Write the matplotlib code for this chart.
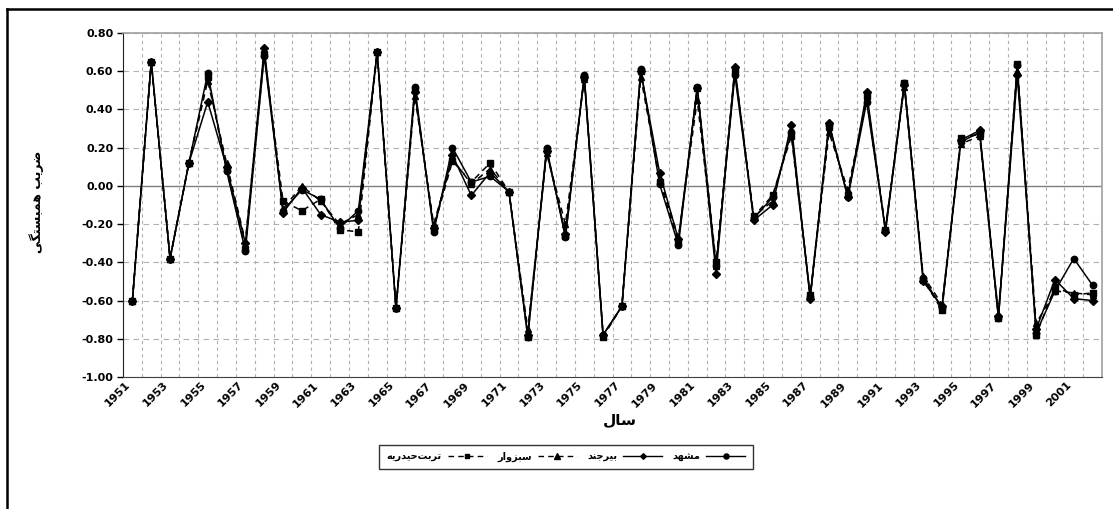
import numpy as np
import matplotlib
matplotlib.use("Agg")
import matplotlib.pyplot as plt
import matplotlib.transforms as mtransforms
from matplotlib.lines import Line2D

# === data ===
years = list(range(1951, 2003))

mashhad = [-0.60, 0.65, -0.38, 0.12, 0.59, 0.08, -0.34, 0.68, -0.13, -0.02,
           -0.07, -0.22, -0.13, 0.70, -0.64, 0.52, -0.24, 0.20, 0.02, 0.05,
           -0.03, -0.79, 0.20, -0.27, 0.58, -0.78, -0.63, 0.61, 0.01, -0.31,
           0.52, -0.42, 0.58, -0.17, -0.06, 0.28, -0.58, 0.32, -0.06, 0.44,
           -0.23, 0.54, -0.48, -0.64, 0.23, 0.28, -0.69, 0.63, -0.77, -0.55,
           -0.38, -0.52]
birjand = [-0.60, 0.65, -0.38, 0.12, 0.44, 0.10, -0.30, 0.72, -0.14, -0.01,
           -0.15, -0.19, -0.18, 0.70, -0.64, 0.49, -0.22, 0.16, -0.05, 0.07,
           -0.03, -0.78, 0.18, -0.25, 0.57, -0.78, -0.63, 0.60, 0.07, -0.28,
           0.51, -0.46, 0.62, -0.18, -0.10, 0.32, -0.59, 0.33, -0.06, 0.49,
           -0.24, 0.53, -0.50, -0.63, 0.24, 0.29, -0.68, 0.58, -0.75, -0.49,
           -0.59, -0.60]
sabzevar = [-0.60, 0.65, -0.38, 0.12, 0.55, 0.12, -0.29, 0.70, -0.12, 0.00,
            -0.08, -0.20, -0.15, 0.70, -0.64, 0.47, -0.20, 0.14, 0.01, 0.09,
            -0.03, -0.75, 0.17, -0.20, 0.56, -0.78, -0.63, 0.57, 0.04, -0.27,
            0.45, -0.42, 0.61, -0.16, -0.08, 0.29, -0.58, 0.28, -0.02, 0.45,
            -0.22, 0.52, -0.47, -0.62, 0.22, 0.26, -0.67, 0.60, -0.72, -0.55,
            -0.56, -0.57]
torbat = [-0.60, 0.65, -0.38, 0.12, 0.57, 0.09, -0.33, 0.69, -0.08, -0.13,
          -0.07, -0.23, -0.24, 0.70, -0.64, 0.50, -0.22, 0.13, 0.02, 0.12,
          -0.03, -0.79, 0.19, -0.26, 0.57, -0.79, -0.63, 0.60, 0.02, -0.29,
          0.51, -0.40, 0.60, -0.16, -0.05, 0.26, -0.57, 0.31, -0.05, 0.47,
          -0.23, 0.54, -0.49, -0.65, 0.25, 0.27, -0.69, 0.64, -0.78, -0.53,
          -0.57, -0.56]

series_names = ["مشهد", "بیرجند", "سبزوار", "تربت‌حیدریه"]
x_title = "سال"
y_title = "ضریب همبستگی"
y_ticks = [-1.0, -0.8, -0.6, -0.4, -0.2, 0.0, 0.2, 0.4, 0.6, 0.8]


# --- tiny Persian shaper: matplotlib has no bidi / joining support ---
FORMS = {
    "ا": ("\uFE8D", "\uFE8E"), "د": ("\uFEA9", "\uFEAA"),
    "ر": ("\uFEAD", "\uFEAE"), "ز": ("\uFEAF", "\uFEB0"),
    "و": ("\uFEED", "\uFEEE"),
    "ب": ("\uFE8F", "\uFE90", "\uFE91", "\uFE92"),
    "ت": ("\uFE95", "\uFE96", "\uFE97", "\uFE98"),
    "ج": ("\uFE9D", "\uFE9E", "\uFE9F", "\uFEA0"),
    "ح": ("\uFEA1", "\uFEA2", "\uFEA3", "\uFEA4"),
    "س": ("\uFEB1", "\uFEB2", "\uFEB3", "\uFEB4"),
    "ش": ("\uFEB5", "\uFEB6", "\uFEB7", "\uFEB8"),
    "ض": ("\uFEBD", "\uFEBE", "\uFEBF", "\uFEC0"),
    "ل": ("\uFEDD", "\uFEDE", "\uFEDF", "\uFEE0"),
    "م": ("\uFEE1", "\uFEE2", "\uFEE3", "\uFEE4"),
    "ن": ("\uFEE5", "\uFEE6", "\uFEE7", "\uFEE8"),
    "ه": ("\uFEE9", "\uFEEA", "\uFEEB", "\uFEEC"),
    "گ": ("\uFB92", "\uFB93", "\uFB94", "\uFB95"),
    "ی": ("\uFBFC", "\uFBFD", "\uFBFE", "\uFBFF"),
}


def fa(text):
    out = []
    for i, ch in enumerate(text):
        if ch not in FORMS:
            if ch != "\u200c":
                out.append(ch)
            continue
        f = FORMS[ch]
        prev = text[i - 1] if i > 0 else ""
        nxt = text[i + 1] if i + 1 < len(text) else ""
        joins_prev = prev in FORMS and len(FORMS[prev]) == 4
        joins_next = nxt in FORMS and len(f) == 4
        if joins_prev and joins_next:
            out.append(f[3])
        elif joins_prev:
            out.append(f[1])
        elif joins_next:
            out.append(f[2])
        else:
            out.append(f[0])
    return "".join(reversed(out))


plt.rcParams["font.family"] = ["DejaVu Sans"]

fig = plt.figure(figsize=(11.13, 5.09), dpi=100)
ax = fig.add_axes([123 / 1113, 1 - 377 / 509, 979 / 1113, 344 / 509])

x = np.arange(len(years))
styles = [
    (mashhad, "o", "-", 4.6),
    (birjand, "D", "-", 3.6),
    (sabzevar, "^", (0, (4, 3)), 4.6),
    (torbat, "s", (0, (4, 3)), 4.3),
]
handles = []
for (vals, mk, ls, ms), name in zip(styles, series_names):
    ax.plot(x, vals, color="black", lw=1.1, ls=ls, marker=mk, ms=ms,
            mfc="black", mec="black", zorder=3)
    handles.append(Line2D([], [], color="black", lw=1.0, ls=ls, marker=mk,
                          ms=ms * 0.8, label=fa(name)))

ax.set_xlim(-0.5, len(years) - 0.5)
ax.set_ylim(-1.0, 0.8)
ax.set_yticks(y_ticks)
ax.set_yticklabels([f"{v:.2f}" for v in y_ticks], fontsize=8, fontweight="bold")

ax.set_xticks(x[::2])
ax.set_xticklabels([str(y) for y in years[::2]], rotation=45, ha="right",
                   va="top", fontsize=8, fontweight="bold")
shift = mtransforms.ScaledTranslation(-8 / 100, 0, fig.dpi_scale_trans)
for lab in ax.get_xticklabels():
    lab.set_transform(lab.get_transform() + shift)
ax.tick_params(axis="x", length=0, pad=2)
ax.tick_params(axis="y", length=4, width=1, direction="out", pad=3)

# gridlines
ax.set_xticks(x[:-1] + 0.5, minor=True)
ax.tick_params(axis="x", which="minor", length=0)
ax.grid(axis="x", which="minor", color="#b0b0b0", ls=(0, (3, 3)), lw=0.8)
ax.grid(axis="y", which="major", color="#b0b0b0", ls=(0, (5, 4)), lw=0.8)
ax.axhline(0, color="#808080", lw=1.0, zorder=2)

for side in ["top", "right"]:
    ax.spines[side].set_color("#a0a0a0")
    ax.spines[side].set_linewidth(1.2)
ax.spines["left"].set_color("#202020")
ax.spines["bottom"].set_color("#404040")

fig.text(620 / 1113, 1 - 420 / 509, fa(x_title), ha="center", va="center",
         fontsize=11, fontweight="bold")
fig.text(37 / 1113, 1 - 202 / 509, fa(y_title), ha="center", va="center",
         rotation=90, fontsize=9, fontweight="bold")

leg = fig.legend(handles=handles[::-1], loc="center",
                 bbox_to_anchor=(566 / 1113, 1 - 457 / 509), ncol=4,
                 markerfirst=False, frameon=True, fancybox=False,
                 edgecolor="black", handlelength=4.0, columnspacing=1.1,
                 handletextpad=0.6, borderpad=0.75,
                 prop={"weight": "bold", "size": 7})
leg.get_frame().set_linewidth(1.0)

# outer chart border (left and top only visible)
fig.add_artist(Line2D([7 / 1113, 7 / 1113], [0, 1 - 9 / 509],
                      transform=fig.transFigure, color="black", lw=1.8))
fig.add_artist(Line2D([7 / 1113, 1], [1 - 9 / 509, 1 - 9 / 509],
                      transform=fig.transFigure, color="black", lw=1.8))

fig.savefig("out.png", dpi=100, facecolor="white")
